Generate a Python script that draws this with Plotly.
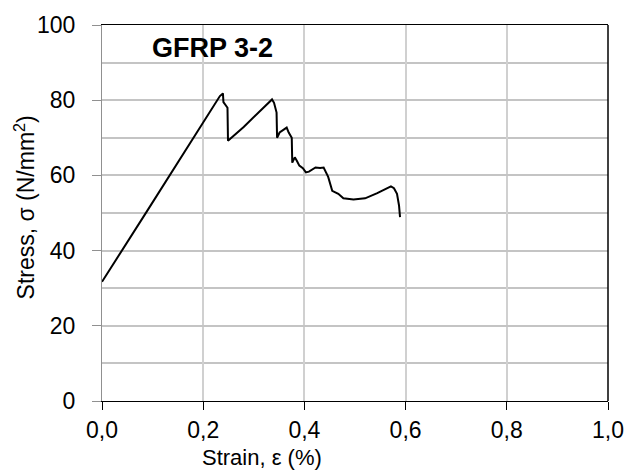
import plotly.graph_objects as go

strain = [0.0, 0.039, 0.089, 0.233, 0.239, 0.240, 0.245, 0.248, 0.249, 0.280, 0.336, 0.340,
          0.345, 0.346, 0.351, 0.360, 0.365, 0.369, 0.375, 0.376, 0.381, 0.385, 0.390, 0.397,
          0.403, 0.409, 0.422, 0.431, 0.438, 0.447, 0.451, 0.455, 0.467, 0.477, 0.497, 0.520,
          0.544, 0.571, 0.577, 0.583, 0.587, 0.589]
stress = [31.7, 39.8, 50.5, 81.1, 81.8, 79.5, 78.4, 78.0, 69.2, 72.9, 80.2, 79.3,
          76.7, 70.0, 71.4, 72.4, 72.7, 71.4, 70.0, 63.4, 64.8, 63.9, 62.6, 61.9,
          60.8, 61.0, 62.1, 62.0, 62.1, 59.6, 57.7, 55.9, 55.1, 53.9, 53.6, 53.9,
          55.3, 57.1, 56.6, 55.1, 52.0, 48.9]

x_ticks = [0.0, 0.2, 0.4, 0.6, 0.8, 1.0]
y_ticks = [0, 20, 40, 60, 80, 100]

FONT = "Liberation Sans, Arial, sans-serif"

fig = go.Figure()
fig.add_trace(go.Scatter(x=strain, y=stress, mode="lines",
                         line=dict(color="black", width=2), showlegend=False))

fig.update_layout(
    width=639, height=473,
    margin=dict(l=102, r=31, t=21, b=72),
    paper_bgcolor="white", plot_bgcolor="white",
    separators=",.",
    font=dict(family=FONT, size=22, color="black"),
    xaxis=dict(range=[0, 1], tickvals=x_ticks, tickformat=".1f",
               showgrid=True, gridcolor="#d0d0d0", gridwidth=1.5,
               showline=True, linecolor="black", linewidth=1.2, mirror=True,
               ticks="outside", ticklen=8, tickcolor="black",
               tickfont=dict(size=23), zeroline=False),
    yaxis=dict(range=[0, 100], tickvals=y_ticks,
               showgrid=True, gridcolor="#c4c4c4", gridwidth=1.5,
               minor=dict(dtick=10, showgrid=True, gridcolor="#c4c4c4", gridwidth=1.5, ticks=""),
               showline=True, linecolor="#909090", linewidth=1.3,
               ticks="outside", ticklen=9, tickcolor="#909090",
               ticklabelstandoff=12,
               tickfont=dict(size=23), zeroline=False),
    annotations=[
        dict(text="<b>GFRP 3-2</b>", xref="paper", yref="paper", x=0.218, y=0.94,
             xanchor="center", yanchor="middle",
             showarrow=False, font=dict(size=27, family=FONT)),
        dict(text="Strain, ε (%)", xref="paper", yref="paper", x=0.316, y=-0.151,
             xanchor="center", yanchor="middle",
             showarrow=False, font=dict(size=22, family=FONT)),
        dict(text="Stress, σ (N/mm<sup>2</sup>)", xref="paper", yref="paper", x=-0.152, y=0.515,
             xanchor="center", yanchor="middle",
             textangle=-90, showarrow=False, font=dict(size=23, family=FONT)),
    ],
    shapes=[dict(type="line", xref="paper", yref="paper", x0=1, x1=1, y0=0, y1=1,
                 line=dict(color="black", width=1.5))],
)

fig.write_html("out.html")
